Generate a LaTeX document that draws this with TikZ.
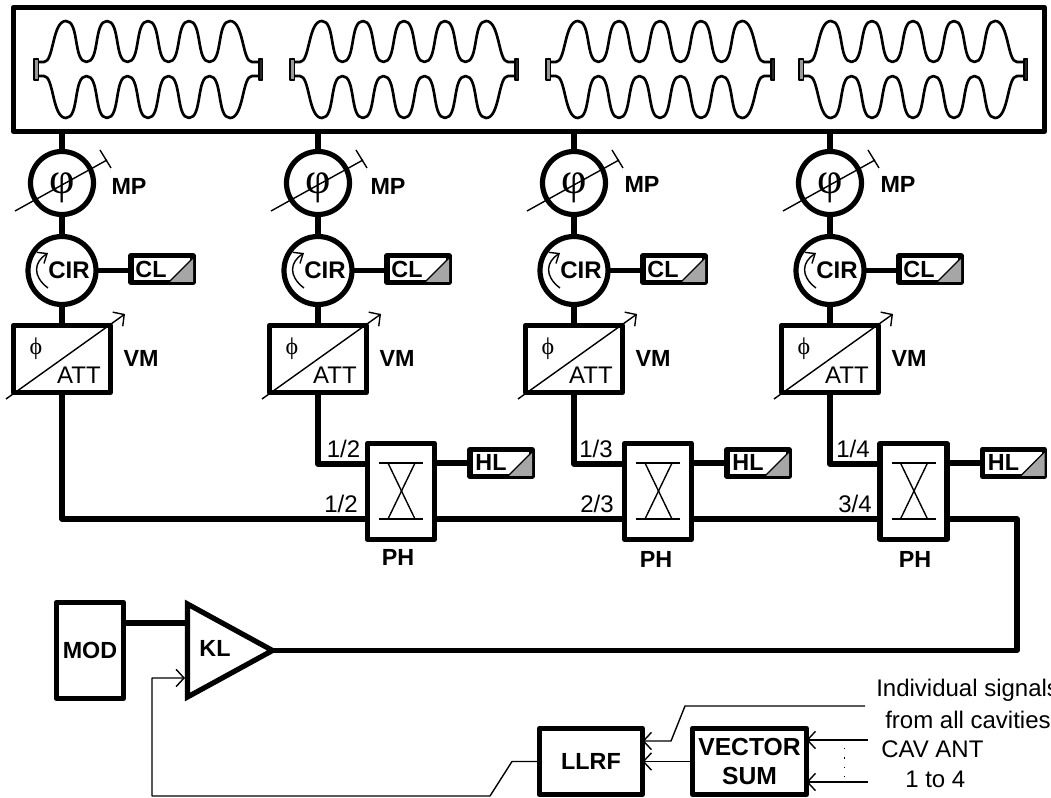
\documentclass[tikz,border=0pt]{standalone}
\usepackage{fontspec}
\setmainfont{Liberation Sans}
\newfontfamily\serifgreek{Liberation Serif}
\usetikzlibrary{arrows.meta}
\tikzset{
  x=0.75pt,y=-0.75pt,
  heavy/.style={line width=3.9pt,line join=round,line cap=round},
  wire/.style={line width=3.9pt,line join=round},
  thin wire/.style={line width=1.05pt,line join=round},
  arrowed/.style={thin wire,-{Straight Barb[length=6pt,width=13pt]}},
  blockbox/.style={draw,heavy,fill=white,inner sep=0pt,outer sep=0pt},
  ring/.style={circle,draw,heavy,fill=white,inner sep=0pt,outer sep=0pt},
  tag/.style={font=\fontsize{17.5}{20}\selectfont\bfseries,inner sep=0pt},
  plain/.style={font=\fontsize{18}{20}\selectfont,inner sep=0pt},
}
\newcommand{\cavity}[1]{%
  \begin{scope}[xshift=#1*0.75pt]
    \draw[line width=2pt,line join=round]
      (38,62) -- (44,62) .. controls (54,62) and (52,21) .. (66,21)
      \foreach \p in {66,107,148,189} {
        .. controls (\p+13.5,21) and (\p+7,62) .. (\p+20.5,62)
        .. controls (\p+34,62) and (\p+27.5,21) .. (\p+41,21)
      }
      .. controls (244,21) and (242,62) .. (252,62) -- (259,62);
    \draw[line width=2pt,line join=round]
      (38,76) -- (44,76) .. controls (54,76) and (52,118) .. (66,118)
      \foreach \p in {66,107,148,189} {
        .. controls (\p+13.5,118) and (\p+7,76) .. (\p+20.5,76)
        .. controls (\p+34,76) and (\p+27.5,118) .. (\p+41,118)
      }
      .. controls (244,118) and (242,76) .. (252,76) -- (259,76);
    \draw[line width=1.4pt,fill=black!40,line join=round] (34,59) rectangle (38.5,80);
    \draw[line width=1.4pt,fill=black!85,line join=round] (259,59) rectangle (262.5,80);
  \end{scope}}
\begin{document}
\begin{tikzpicture}
\clip (0,0) rectangle (1051,798);
\fill[white] (0,0) rectangle (1051,798);
% cryomodule
\node[blockbox,minimum width=1031*0.75pt,minimum height=124*0.75pt] (module) at (529,69.5) {};
\cavity{0}\cavity{256}\cavity{512}\cavity{765}
% the four identical branches
\foreach \i/\x/\mpx/\mpy in {1/62/129/186,2/318/388/186,3/574/642/184,4/830/898/184}{
  \node[ring,minimum size=63*0.75pt] (mp\i) at (\x,183) {};
  \node[ring,minimum size=68*0.75pt] (cir\i) at (\x,270.5) {};
  \node[blockbox,minimum width=97*0.75pt,minimum height=67*0.75pt] (vm\i) at (\x,359) {};
  \node[blockbox,minimum width=62*0.75pt,minimum height=27*0.75pt] (cl\i) at (\x+100,269) {};
  \draw[wire] (module.south -| mp\i) -- (mp\i);
  \draw[wire] (mp\i) -- (cir\i);
  \draw[wire] (cir\i) -- (vm\i);
  \draw[wire] (cir\i.east) -- (cl\i.west |- cir\i.east);
  % phase shifter symbol
  \node[font=\serifgreek\fontsize{33}{33}\selectfont,inner sep=0pt] (phi\i) at (\x,188) {φ};
  \draw[line width=1.05pt] (\x-47,211) -- (\x+45,160);
  \draw[line width=1.05pt] (\x+38,150) -- (\x+49,168);
  \node[tag] (mplabel\i) at (\mpx,\mpy) {MP};
  % circulator
  \draw[line width=1.05pt,-{Straight Barb[length=6pt,width=10pt]}] (\x-14,288) .. controls (\x-30,276) and (\x-28,262) .. (\x-14,253);
  \node[tag,font=\fontsize{18}{20}\selectfont\bfseries] (cirlabel\i) at (\x+7,270) {CIR};
  % load
  \fill[black!35] (\x+131,258) -- (\x+131,282) -- (\x+107,282) -- cycle;
  \draw[line width=1.05pt] (\x+107,282) -- (\x+131,258);
  \node[tag] (cllabel\i) at (\x+89,269) {CL};
  % vector modulator
  \draw[arrowed] (\x-56,399) -- (\x+63,314);
  \node[font=\serifgreek\fontsize{18}{20}\selectfont,inner sep=0pt] (vmphi\i) at (\x-26,349) {ϕ};
  \node[plain] (att\i) at (\x+17,375) {ATT};
  \node[tag] (vmlabel\i) at (\x+79,358) {VM};
}
% hybrids
\foreach \i/\x/\lab/\lx/\px/\py in {2/401/1\slash 2/341/398/557,3/658/2\slash 3/597/656/559,4/913.5/3\slash 4/855/915/559}{
  \node[blockbox,minimum width=67*0.75pt,minimum height=96*0.75pt] (ph\i) at (\x,491.5) {};
  \draw[line width=1.05pt] (\x-22,463) -- (\x+22,463);
  \draw[line width=1.05pt] (\x-22,519) -- (\x+22,519);
  \draw[line width=1.05pt] (\x-13,463) -- (\x+14,519);
  \draw[line width=1.05pt] (\x+14,463) -- (\x-13,519);
  \node[tag] (phlabel\i) at (\px,\py) {PH};
  \node[blockbox,minimum width=62*0.75pt,minimum height=27*0.75pt] (hl\i) at (\x+100,463) {};
  \draw[wire] (ph\i.east |- 0,463) -- (hl\i.west);
  \fill[black!35] (\x+131,452) -- (\x+131,476) -- (\x+107,476) -- cycle;
  \draw[line width=1.05pt] (\x+107,476) -- (\x+131,452);
  \node[tag] (hllabel\i) at (\x+90,462) {HL};
  \node[plain] (low\i) at (\lx,504) {\lab};
}
\node[plain] (up2) at (343.5,449) {1\slash 2};
\node[plain] (up3) at (596,449) {1\slash 3};
\node[plain] (up4) at (853,449) {1\slash 4};
% distribution line
\draw[wire] (vm2.south) -- (vm2.south |- 0,464) -- (ph2.west |- 0,464);
\draw[wire] (vm3.south) -- (vm3.south |- 0,464) -- (ph3.west |- 0,464);
\draw[wire] (vm4.south) -- (vm4.south |- 0,464) -- (ph4.west |- 0,464);
\draw[wire] (vm1.south) -- (vm1.south |- 0,519) -- (ph2.west |- 0,519);
\draw[wire] (ph2.east |- 0,519) -- (ph3.west |- 0,519);
\draw[wire] (ph3.east |- 0,519) -- (ph4.west |- 0,519);
% klystron
\node[blockbox,minimum width=67*0.75pt,minimum height=96*0.75pt] (mod) at (90,650.5) {};
\node[tag] (modlabel) at (mod) {MOD};
\coordinate (klNW) at (187.5,604);
\coordinate (klSW) at (187.5,697);
\coordinate (klE) at (272.5,650.5);
\draw[line width=3.9pt,line join=miter,fill=white] (klNW) -- (klE) -- (klSW) -- cycle;
\node[tag] (kl) at (215,648) {KL};
\draw[wire] (mod.east |- 0,623) -- (klNW |- 0,623);
\draw[wire] (ph4.east |- 0,519) -- (1017,519) -- (1017,650.5) -- (klE);
% low level rf
\node[blockbox,minimum width=103*0.75pt,minimum height=66*0.75pt] (llrf) at (591,761.5) {};
\node[tag] (llrflabel) at (llrf) {LLRF};
\node[blockbox,minimum width=114*0.75pt,minimum height=66*0.75pt,align=center,font=\fontsize{18.5}{21.5}\selectfont\bfseries] (vs) at (749.5,761.5) {VECTOR\\SUM};
\coordinate (kin) at (185,678);
\draw[arrowed] (llrf.west) -- (512,761.5) -- (490,796) -- (152,796) -- (152,678) -- (kin);
\draw[arrowed] (vs.west) -- (llrf.east);
\coordinate (indiv) at (865,706);
\draw[arrowed] (indiv) -- (685,706) -- (671,741) -- (llrf.east |- 0,741);
\coordinate (ant1) at (868,740);
\coordinate (ant2) at (868,782);
\draw[arrowed] (ant1) -- (vs.east |- ant1);
\draw[arrowed] (ant2) -- (vs.east |- ant2);
\draw[line width=0.7pt,dash pattern=on 1pt off 6pt] (844,748) -- (844,778);
\node[plain,anchor=west] (sig1) at (876,690) {Individual signals};
\node[plain,anchor=west] (sig2) at (885,719.5) {from all cavities};
\node[plain,anchor=west] (ant) at (881,749) {CAV ANT};
\node[plain,anchor=west] (ant4) at (905,779) {1 to 4};
\end{tikzpicture}
\end{document}
